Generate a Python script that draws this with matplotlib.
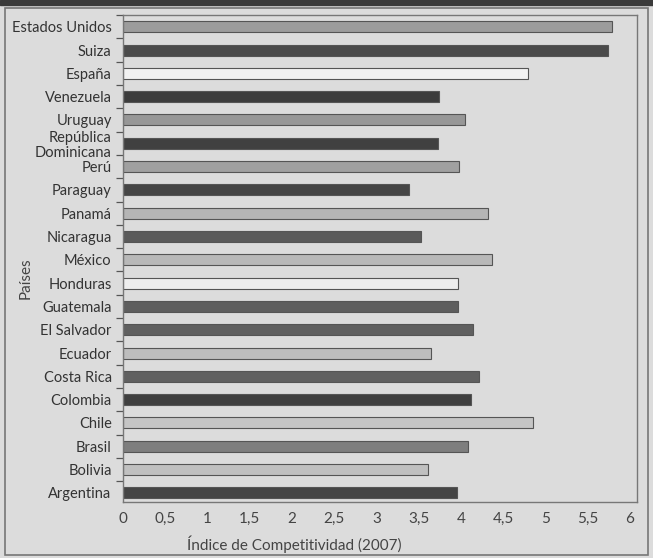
import matplotlib.pyplot as plt
from matplotlib.patches import Rectangle

# data, listed top to bottom as in the chart
paises = ['Estados Unidos', 'Suiza', 'España', 'Venezuela', 'Uruguay',
          'República\nDominicana', 'Perú', 'Paraguay', 'Panamá', 'Nicaragua',
          'México', 'Honduras', 'Guatemala', 'El Salvador', 'Ecuador',
          'Costa Rica', 'Colombia', 'Chile', 'Brasil', 'Bolivia', 'Argentina']
indice = [5.79, 5.74, 4.79, 3.74, 4.05,
          3.73, 3.98, 3.39, 4.32, 3.53,
          4.37, 3.97, 3.97, 4.14, 3.65,
          4.22, 4.12, 4.85, 4.08, 3.61, 3.95]
x_ticks = [0, 0.5, 1, 1.5, 2, 2.5, 3, 3.5, 4, 4.5, 5, 5.5, 6]
x_tick_labels = ['0', '0,5', '1', '1,5', '2', '2,5', '3', '3,5', '4', '4,5', '5', '5,5', '6']

# bar greys (style)
colores = ['#9c9c9c', '#4b4b4b', '#f2f2f2', '#3c3c3c', '#979797',
           '#404040', '#a0a0a0', '#454545', '#b5b5b5', '#5a5a5a',
           '#b8b8b8', '#eeeeee', '#5e5e5e', '#606060', '#bdbdbd',
           '#606060', '#3f3f3f', '#c5c5c5', '#7e7e7e', '#c0c0c0', '#454545']

plt.rcParams['font.family'] = ['Lato', 'DejaVu Sans']
paper = '#dcdcdc'
txt = '#444444'

fig = plt.figure(figsize=(6.53, 5.58), dpi=100, facecolor=paper)
ax = fig.add_axes([0.188, 0.100, 0.787, 0.873], facecolor=paper)

# dark band on top and outer frame of the scanned page
fig.patches.append(Rectangle((0, 0.991), 1, 0.009, transform=fig.transFigure,
                             color='#3a3a3a', zorder=0))
fig.patches.append(Rectangle((0.007, 0.006), 0.986, 0.98, transform=fig.transFigure,
                             fill=False, edgecolor='#777777', lw=1.2, zorder=0))

n = len(paises)
pos = [n - 1 - i for i in range(n)]
ax.barh(pos, indice, height=0.47, color=colores, edgecolor='#555555', linewidth=0.8)

ax.set_xlim(0, 6.08)
ax.set_ylim(-0.4, n - 0.5)
ax.set_xticks(x_ticks)
ax.set_xticklabels(x_tick_labels, fontsize=11, color=txt)
ax.tick_params(axis='x', length=0, pad=7)

ax.set_yticks(pos)
ax.set_yticklabels(paises, fontsize=10.5, color='#333333', linespacing=1.1)
ax.set_yticks([p + 0.5 for p in pos], minor=True)
ax.tick_params(axis='y', which='major', length=0, pad=8)
ax.tick_params(axis='y', which='minor', length=5, width=0.9, color='#555555')

for s in ax.spines.values():
    s.set_color('#777777')
    s.set_linewidth(1.0)

ax.set_xlabel('Índice de Competitividad (2007)', fontsize=11, color=txt)
ax.xaxis.set_label_coords(0.333, -0.068)
ax.set_ylabel('Países', fontsize=11, color=txt)
ax.yaxis.set_label_coords(-0.175, 0.46)

plt.savefig('out.png', dpi=100, facecolor=paper)
